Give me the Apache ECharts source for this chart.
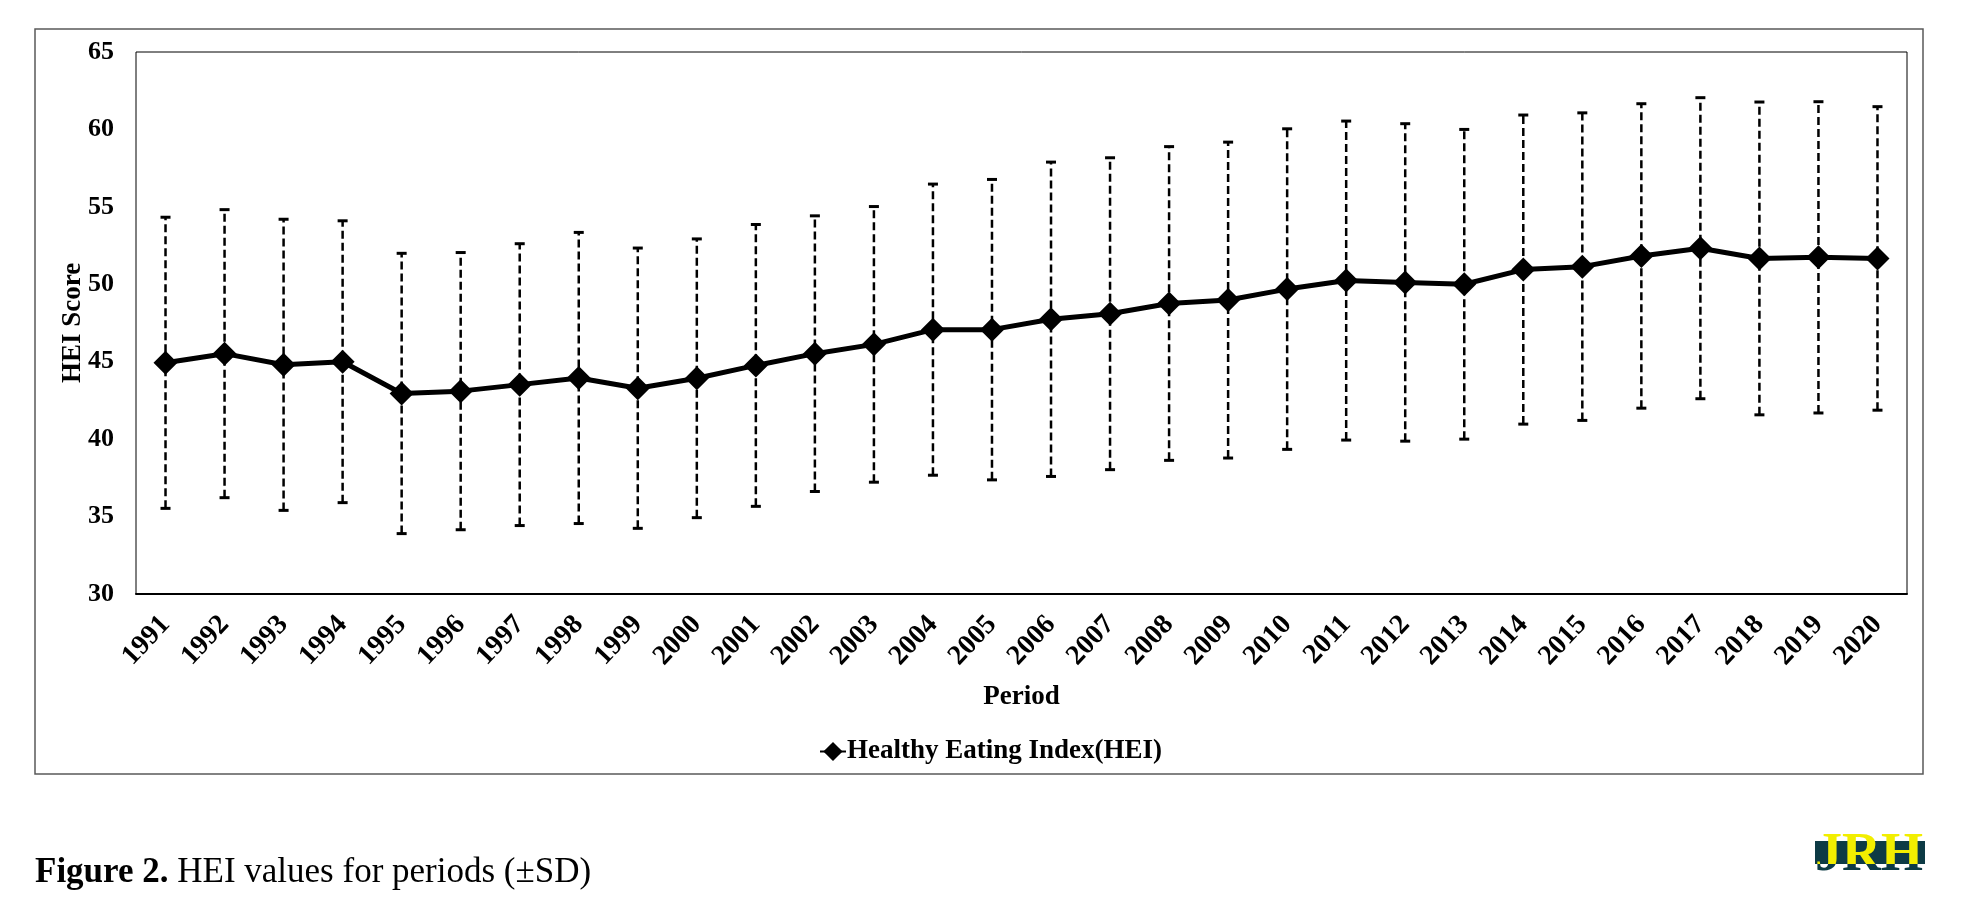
<!DOCTYPE html>
<html lang="en">
  <head>
    <meta charset="utf-8" />
    <title>HEI values for periods</title>
    <script src="https://cdn.jsdelivr.net/npm/echarts@6/dist/echarts.min.js"></script>
    <style>
      html, body { margin: 0; padding: 0; background: #fff; }
      #chart { width: 1981px; height: 917px; }
    </style>
  </head>
  <body>
    <div id="chart"></div>
    <script>
      // values
      var years = ['1991', '1992', '1993', '1994', '1995', '1996', '1997', '1998', '1999', '2000',
        '2001', '2002', '2003', '2004', '2005', '2006', '2007', '2008', '2009', '2010',
        '2011', '2012', '2013', '2014', '2015', '2016', '2017', '2018', '2019', '2020']
      var heiMean = [44.93, 45.52, 44.8, 45.0, 42.95, 43.1, 43.52, 43.95, 43.29, 43.93,
        44.76, 45.52, 46.12, 47.07, 47.07, 47.74, 48.1, 48.76, 48.98, 49.69,
        50.24, 50.12, 50.0, 50.95, 51.14, 51.83, 52.33, 51.67, 51.74, 51.67]
      var heiSD = [9.4, 9.3, 9.4, 9.1, 9.05, 8.95, 9.1, 9.4, 9.05, 9.0,
        9.1, 8.9, 8.9, 9.4, 9.7, 10.15, 10.07, 10.13, 10.2, 10.35,
        10.3, 10.25, 10.0, 9.98, 9.93, 9.83, 9.72, 10.1, 10.05, 9.8]
      var yTicks = { min: 30, max: 65, step: 5 }

      var font = 'Liberation Serif'
      var teal = '#0d3b45'
      var yellow = '#f2ee00'

      window.onload = function () {
        var chart = echarts.init(document.getElementById('chart'))

        // error bar rows: [index, mean - sd, mean + sd]
        var bars = heiMean.map(function (m, i) {
          return [i, m - heiSD[i], m + heiSD[i]]
        })

        chart.setOption({
          animation: false,
          backgroundColor: '#fff',
          textStyle: { fontFamily: font, color: '#000' },
          grid: {
            left: 136, top: 52, right: 74, bottom: 323,
            show: true, borderColor: '#000', borderWidth: 1
          },
          legend: {
            data: ['Healthy Eating Index(HEI)'],
            left: 'center', top: 733,
            itemWidth: 26, itemHeight: 24, itemGap: 4,
            textStyle: { fontFamily: font, fontWeight: 'bold', fontSize: 27, color: '#000', padding: [0, 0, 0, -4] }
          },
          xAxis: {
            type: 'category',
            data: years,
            boundaryGap: true,
            name: 'Period',
            nameLocation: 'middle',
            nameGap: 90,
            nameTextStyle: { fontFamily: font, fontWeight: 'bold', fontSize: 27, color: '#000' },
            axisLine: { lineStyle: { color: '#000', width: 2 } },
            axisTick: { show: false },
            axisLabel: {
              interval: 0, rotate: 47, margin: 26,
              fontFamily: font, fontWeight: 'bold', fontSize: 28, color: '#000'
            }
          },
          yAxis: {
            type: 'value',
            min: yTicks.min, max: yTicks.max, interval: yTicks.step,
            name: 'HEI Score',
            nameLocation: 'middle',
            nameRotate: 90,
            nameGap: 49,
            nameMoveOverlap: false,
            nameTextStyle: { fontFamily: font, fontWeight: 'bold', fontSize: 27, color: '#000' },
            axisLine: { show: false },
            axisTick: { show: false },
            splitLine: { show: false },
            axisLabel: { margin: 22, fontFamily: font, fontWeight: 'bold', fontSize: 26, color: '#000' }
          },
          series: [
            {
              name: 'SD',
              type: 'custom',
              z: 1,
              data: bars,
              encode: { x: 0, y: [1, 2] },
              renderItem: function (params, api) {
                var lo = api.coord([api.value(0), api.value(1)])
                var hi = api.coord([api.value(0), api.value(2)])
                var cap = 5
                return {
                  type: 'group',
                  children: [
                    { type: 'line', shape: { x1: lo[0], y1: lo[1], x2: hi[0], y2: hi[1] },
                      style: { stroke: '#000', lineWidth: 2.5, lineDash: [8, 4] } },
                    { type: 'line', shape: { x1: hi[0] - cap, y1: hi[1], x2: hi[0] + cap, y2: hi[1] },
                      style: { stroke: '#000', lineWidth: 3 } },
                    { type: 'line', shape: { x1: lo[0] - cap, y1: lo[1], x2: lo[0] + cap, y2: lo[1] },
                      style: { stroke: '#000', lineWidth: 3 } }
                  ]
                }
              }
            },
            {
              name: 'Healthy Eating Index(HEI)',
              type: 'line',
              z: 3,
              data: heiMean,
              symbol: 'diamond',
              symbolSize: 24,
              lineStyle: { color: '#000', width: 5 },
              itemStyle: { color: '#000' }
            }
          ],
          graphic: [
            // outer chart frame
            { type: 'rect', z: -1, shape: { x: 35, y: 29, width: 1888, height: 745 },
              style: { fill: null, stroke: '#595959', lineWidth: 1.5 } },
            // caption
            { type: 'text', left: 35, top: 855,
              style: {
                text: '{b|Figure 2.} HEI values for periods (±SD)',
                font: '35px "Liberation Serif"', fill: '#000',
                rich: { b: { fontWeight: 'bold', fontSize: 35, fontFamily: font } }
              } }
          ]
        })

        // journal logo: teal band with yellow letters on top, teal letters below
        var zr = chart.getZr()
        var logoFont = 'bold 54px "Liberation Serif"'
        var bandTop = 841, bandBottom = 864
        zr.add(new echarts.graphic.Rect({
          shape: { x: 1815, y: bandTop, width: 110, height: bandBottom - bandTop },
          style: { fill: teal }
        }))
        var lower = new echarts.graphic.Text({
          style: { text: 'JRH', font: logoFont, fill: teal, x: 1815, y: 829 }
        })
        lower.setClipPath(new echarts.graphic.Rect({ shape: { x: 1800, y: bandBottom, width: 140, height: 40 } }))
        zr.add(lower)
        var upper = new echarts.graphic.Text({
          style: { text: 'JRH', font: logoFont, fill: yellow, x: 1815, y: 829 }
        })
        upper.setClipPath(new echarts.graphic.Rect({ shape: { x: 1800, y: 820, width: 140, height: bandBottom - 820 } }))
        zr.add(upper)
      }
    </script>
  </body>
</html>
